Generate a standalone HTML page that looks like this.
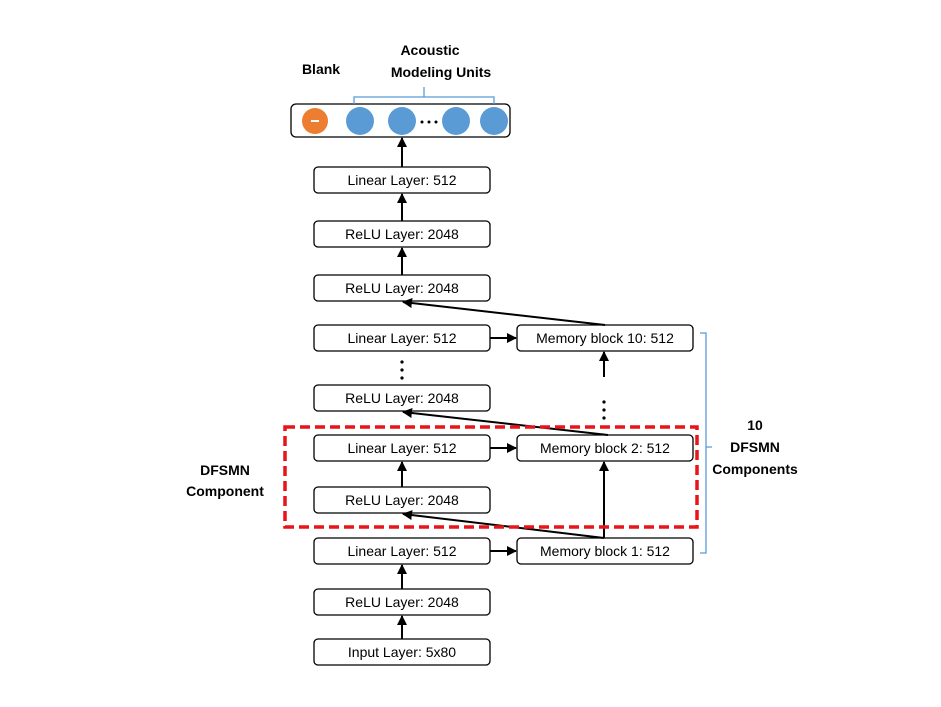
<!DOCTYPE html>
<html><head><meta charset="utf-8"><style>
html,body{margin:0;padding:0;background:#fff;}
svg{display:block;}
text{font-family:"Liberation Sans",sans-serif;}
</style></head><body>
<svg width="941" height="707" viewBox="0 0 941 707" xmlns="http://www.w3.org/2000/svg">
<defs>
<marker id="a" markerWidth="10" markerHeight="10" refX="9" refY="5" orient="auto" markerUnits="userSpaceOnUse">
<path d="M0,0 L10,5 L0,10 z" fill="#000"/></marker>
</defs>
<rect width="941" height="707" fill="#fff"/>
<g fill="#fff" stroke="#000" stroke-width="1.3">
<rect x="291" y="104" width="219" height="33" rx="5"/>
<rect x="314" y="167" width="176" height="26" rx="4"/>
<rect x="314" y="221" width="176" height="26" rx="4"/>
<rect x="314" y="275" width="176" height="26" rx="4"/>
<rect x="314" y="325" width="176" height="26" rx="4"/>
<rect x="314" y="385" width="176" height="26" rx="4"/>
<rect x="314" y="435" width="176" height="26" rx="4"/>
<rect x="314" y="487" width="176" height="26" rx="4"/>
<rect x="314" y="538" width="176" height="26" rx="4"/>
<rect x="314" y="589" width="176" height="26" rx="4"/>
<rect x="314" y="639" width="176" height="26" rx="4"/>
<rect x="517" y="325" width="176" height="26" rx="4"/>
<rect x="517" y="435" width="176" height="26" rx="4"/>
<rect x="517" y="538" width="176" height="26" rx="4"/>
</g>
<circle cx="315" cy="121" r="13" fill="#ed7d31"/>
<rect x="311" y="120" width="8" height="2" fill="#fff"/>
<circle cx="360" cy="121" r="14" fill="#5b9bd5"/>
<circle cx="402" cy="121" r="14" fill="#5b9bd5"/>
<circle cx="456" cy="121" r="14" fill="#5b9bd5"/>
<circle cx="494" cy="121" r="14" fill="#5b9bd5"/>
<g fill="#000"><circle cx="422" cy="122" r="1.5"/><circle cx="429" cy="122" r="1.5"/><circle cx="436" cy="122" r="1.5"/></g>
<path d="M354,104 V97 H494 V104 M424,97 V87" fill="none" stroke="#5b9bd5" stroke-width="1.3"/>
<path d="M700,333 H706 V553 H700 M706,447 H712" fill="none" stroke="#5b9bd5" stroke-width="1.3"/>
<g stroke="#000" stroke-width="2" fill="none" marker-end="url(#a)">
<line x1="402" y1="167" x2="402" y2="138"/>
<line x1="402" y1="221" x2="402" y2="194"/>
<line x1="402" y1="275" x2="402" y2="248"/>
<line x1="402" y1="487" x2="402" y2="462"/>
<line x1="402" y1="589" x2="402" y2="565"/>
<line x1="402" y1="639" x2="402" y2="616"/>
<line x1="490" y1="338" x2="516" y2="338"/>
<line x1="490" y1="448" x2="516" y2="448"/>
<line x1="490" y1="551" x2="516" y2="551"/>
<line x1="604" y1="538" x2="604" y2="462"/>
<line x1="604" y1="377" x2="604" y2="352"/>
<line x1="605" y1="325" x2="403" y2="302"/>
<line x1="608" y1="435" x2="403" y2="412"/>
<line x1="604" y1="538" x2="403" y2="514"/>
</g>
<g fill="#000"><circle cx="402" cy="362" r="1.6"/><circle cx="402" cy="370" r="1.6"/><circle cx="402" cy="378" r="1.6"/>
<circle cx="604" cy="402" r="1.6"/><circle cx="604" cy="410" r="1.6"/><circle cx="604" cy="418" r="1.6"/></g>
<rect x="285" y="427" width="412" height="100" fill="none" stroke="#e8141a" stroke-width="3.5" stroke-dasharray="10,5"/>
<g font-size="14" text-anchor="middle" fill="#000">
<text x="402" y="185">Linear Layer: 512</text>
<text x="402" y="239">ReLU Layer: 2048</text>
<text x="402" y="293">ReLU Layer: 2048</text>
<text x="402" y="343">Linear Layer: 512</text>
<text x="402" y="403">ReLU Layer: 2048</text>
<text x="402" y="453">Linear Layer: 512</text>
<text x="402" y="505">ReLU Layer: 2048</text>
<text x="402" y="556">Linear Layer: 512</text>
<text x="402" y="607">ReLU Layer: 2048</text>
<text x="402" y="657">Input Layer: 5x80</text>
<text x="605" y="343">Memory block 10: 512</text>
<text x="605" y="453">Memory block 2: 512</text>
<text x="605" y="556">Memory block 1: 512</text>
</g>
<g font-size="14" font-weight="bold" text-anchor="middle" fill="#000">
<text x="321" y="74">Blank</text>
<text x="430" y="55">Acoustic</text>
<text x="441" y="77">Modeling Units</text>
<text x="755" y="430">10</text>
<text x="755" y="452">DFSMN</text>
<text x="755" y="474">Components</text>
<text x="225" y="475">DFSMN</text>
<text x="225" y="496">Component</text>
</g>
</svg>
</body></html>
